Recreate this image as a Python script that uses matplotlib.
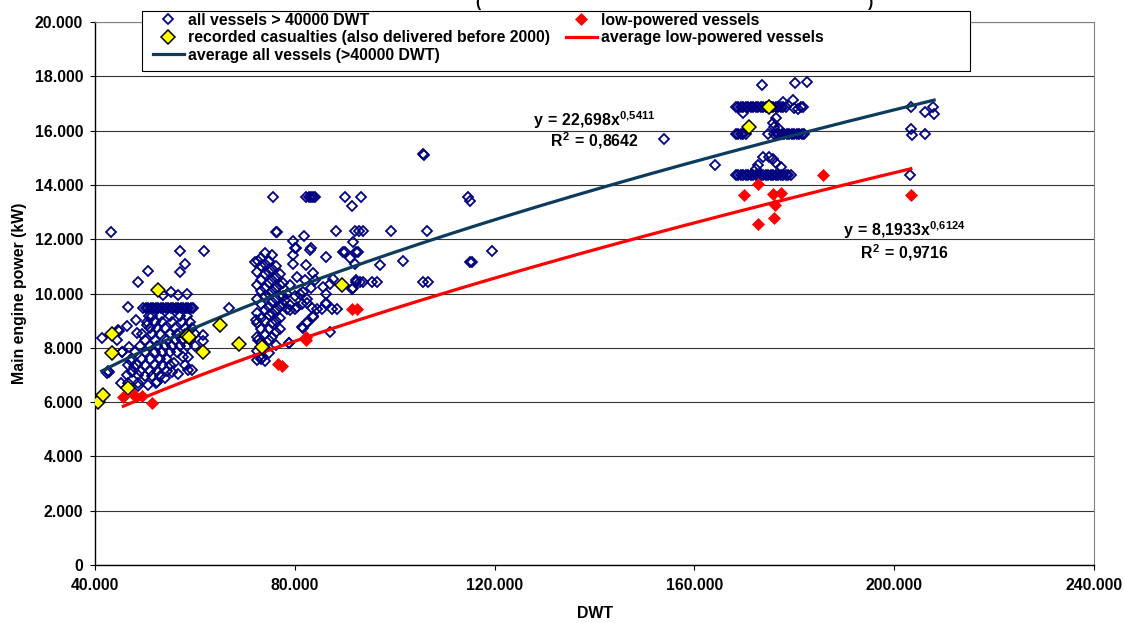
import matplotlib
matplotlib.use('Agg')
import matplotlib.pyplot as plt
from matplotlib.patches import Rectangle
import numpy as np

# values (DWT, main engine power in kW)
handymax_vessels = [
    (43200, 12280), (57000, 11570), (61800, 11570), (58000, 11075), (57000, 10780),
    (50670, 10830), (48670, 10435), (53670, 9945), (56670, 9960), (58340, 9970),
    (55300, 10050), (46530, 9515), (48200, 9020), (46330, 8800), (48330, 8560),
    (44670, 8655), (41330, 8350), (44800, 8620), (50340, 8840), (50800, 9180),
    (44340, 8290), (45470, 7830), (42670, 7145), (42330, 7060), (42870, 7120),
    (46670, 7370), (47340, 7120), (48670, 7000), (47000, 7550), (47800, 7300),
    (46500, 7000), (61700, 8470), (61700, 8260), (66870, 9450), (57670, 7670),
    (55870, 7430), (58000, 7370), (59340, 7180), (55340, 7120), (58700, 7180),
    (56700, 7035), (58700, 7670), (45200, 6715), (46600, 6690), (48670, 6690),
    (50670, 6630), (52340, 6750), (54000, 6875), (48700, 6600), (52300, 6690),
    (45330, 7860), (46800, 8040),
    # dense band at 9480 kW
    (49700, 9480), (50200, 9480), (50700, 9480), (51200, 9480), (51700, 9480),
    (52200, 9480), (52700, 9480), (53200, 9480), (53700, 9480), (54200, 9480),
    (54700, 9480), (55200, 9480), (55700, 9480), (56200, 9480), (56700, 9480),
    (57200, 9480), (57700, 9480), (58200, 9480), (58700, 9480), (59200, 9480),
    (59700, 9480),
    # dense cloud
    (51500, 9180), (53000, 9180), (55000, 9180), (57000, 9180), (58500, 9180),
    (50500, 8950), (52000, 8950), (53500, 8950), (55500, 8950), (57500, 8950), (59000, 8950),
    (51000, 8740), (52500, 8740), (54000, 8740), (56000, 8740), (58000, 8740), (59500, 8740),
    (49500, 8500), (51500, 8500), (53000, 8500), (55000, 8500), (56500, 8500), (58000, 8500),
    (60000, 8500),
    (50000, 8280), (52000, 8280), (54500, 8280), (56000, 8280), (57500, 8280), (59000, 8280),
    (49000, 8050), (51000, 8050), (52500, 8050), (54000, 8050), (55500, 8050), (57000, 8050),
    (58500, 8050), (60000, 8050),
    (48000, 7830), (50000, 7830), (52000, 7830), (53500, 7830), (55000, 7830), (56500, 7830),
    (47500, 7600), (49500, 7600), (51000, 7600), (53000, 7600), (54500, 7600),
    (48500, 7380), (50000, 7380), (52000, 7380), (53500, 7380), (55000, 7380),
    (49000, 7150), (51000, 7150), (52500, 7150), (54500, 7150),
    (50000, 6950), (51500, 6950), (53000, 6950),
]

panamax_vessels = [
    (75670, 13560), (82300, 13560), (82800, 13560), (83300, 13560), (83700, 13560),
    (84000, 13560), (76200, 12280), (76500, 12280), (81800, 12130), (79540, 11930),
    (72670, 11210), (72000, 11170), (80000, 11660), (80300, 11690), (83000, 11600),
    (83200, 11660), (82340, 11050), (83670, 10740), (82000, 10500), (79700, 11100),
    (79700, 11420), (79000, 9575), (78000, 9760), (81540, 8780), (82470, 8900),
    (83670, 9145), (78870, 8190), (81700, 10070), (82400, 8950), (81700, 8720),
    (83700, 9180), (79000, 9400), (80500, 9500), (81500, 9600), (82500, 9650),
    (83500, 9450), (80000, 9900), (81000, 10000), (82500, 9800), (83300, 10200),
    (84000, 10500), (79000, 10300), (78500, 10000), (80500, 10600), (72200, 9020),
    (72700, 8290), (73400, 7610), (74000, 7500), (78900, 8170),
    (78500, 9440), (80000, 9440), (84500, 9440), (85500, 9440), (87500, 9440), (88500, 9440),
    # dense cloud 72-78k DWT
    (72500, 10800), (72500, 10300), (72500, 9800), (72500, 9300), (72500, 8900),
    (72500, 8400), (72500, 7900), (72500, 7550),
    (73300, 11300), (73300, 11000), (73300, 10500), (73300, 10100), (73300, 9600),
    (73300, 9100), (73300, 8700), (73300, 8200), (73300, 7600),
    (74000, 11500), (74000, 11100), (74000, 10700), (74000, 10200), (74000, 9900),
    (74000, 9400), (74000, 9000), (74000, 8500), (74000, 8000),
    (74800, 11200), (74800, 10800), (74800, 10400), (74800, 10000), (74800, 9500),
    (74800, 9200), (74800, 8700), (74800, 8300), (74800, 7800),
    (75500, 11400), (75500, 10900), (75500, 10500), (75500, 10100), (75500, 9700),
    (75500, 9300), (75500, 8900), (75500, 8400),
    (76300, 11000), (76300, 10600), (76300, 10200), (76300, 9800), (76300, 9400),
    (76300, 9000), (76300, 8600), (76300, 8100),
    (77000, 10700), (77000, 10300), (77000, 9900), (77000, 9500), (77000, 9100), (77000, 8700),
    (77700, 10400), (77700, 9900), (77700, 9600),
    # 85-120k DWT
    (86200, 11330), (90000, 11540), (92600, 11540), (91600, 11910), (89700, 11540),
    (92300, 11540), (91000, 11300), (92000, 11090), (97000, 11050), (101700, 11210),
    (88200, 12300), (92000, 12300), (92800, 12300), (93600, 12300), (99200, 12300),
    (106500, 12300), (90000, 13560), (93300, 13560), (91500, 13220), (92300, 10410),
    (93000, 10410), (93700, 10410), (95400, 10410), (96400, 10410), (105700, 10410),
    (106700, 10410), (87700, 10520), (85700, 10250), (86200, 10000), (91500, 10150),
    (86200, 9660), (87000, 8590), (87000, 10360), (92300, 10500), (91700, 10190),
    (86340, 9610), (105700, 15150), (105900, 15100), (114700, 13560), (115000, 13420),
    (119500, 11570), (115000, 11150), (115500, 11150),
]

capesize_vessels = [
    (154000, 15690), (164200, 14730),
    (168300, 16880), (168800, 16880), (169300, 16880), (169800, 16880), (170300, 16880),
    (170800, 16880), (171300, 16880), (171800, 16880), (172300, 16880), (172800, 16880),
    (173300, 16880), (173800, 16880), (174300, 16880), (174800, 16880), (175300, 16880),
    (175800, 16880), (176300, 16880), (176800, 16880), (177300, 16880), (177800, 16880),
    (178300, 16880),
    (179700, 17120), (180000, 16820), (180700, 16780), (181300, 16880), (181700, 16880),
    (169700, 16630), (177700, 17060), (173500, 17670), (180200, 17740), (182500, 17800),
    (168300, 15880), (168800, 15880), (169300, 15880), (169800, 15880), (170300, 15880),
    (176000, 15880), (176500, 15880), (177000, 15880), (177500, 15880), (178000, 15880),
    (178500, 15880), (179000, 15880), (179500, 15880), (180000, 15880), (180500, 15880),
    (181000, 15880), (181500, 15880), (182000, 15880),
    (175700, 16290), (176300, 16450), (176000, 16140), (174700, 15890), (176900, 16070),
    (168300, 14360), (168800, 14360), (169300, 14360), (169800, 14360), (170300, 14360),
    (170800, 14360), (171300, 14360), (171800, 14360), (172300, 14360), (172800, 14360),
    (173300, 14360), (173800, 14360), (174300, 14360), (174800, 14360), (175300, 14360),
    (175800, 14360), (176300, 14360), (176800, 14360), (177300, 14360), (177800, 14360),
    (178300, 14360), (178800, 14360),
    (172700, 14730), (173700, 15010), (175000, 15040), (175700, 14970), (176300, 14790),
    (177300, 14670), (179300, 14350), (172300, 14600),
    (203300, 16880), (206100, 16700), (207700, 16880), (208000, 16600), (203300, 16050),
    (203500, 15840), (206100, 15870), (203100, 14350),
]

casualties = [
    (40670, 6015), (41670, 6260), (46670, 6530), (43330, 7820), (43470, 8495),
    (52540, 10130), (58400, 8450), (58870, 8400), (61680, 7832), (65010, 8840),
    (68870, 8140), (73340, 8040), (89540, 10310), (171000, 16120), (175000, 16880),
]

low_powered = [
    (45670, 6200), (47800, 6260), (49330, 6235), (51330, 5980), (76670, 7400),
    (77530, 7340), (82200, 8410), (82200, 8280), (91500, 9430), (92500, 9430),
    (170000, 13630), (172670, 14020), (175670, 13665), (177330, 13713), (176200, 13260),
    (176000, 12790), (172670, 12550), (185800, 14365), (203330, 13630),
]

# power-law trendlines as printed on the chart
fit_all = (22.698, 0.5411, 0.8642)
fit_low = (8.1933, 0.6124, 0.9716)

x_ticks = [40000, 80000, 120000, 160000, 200000, 240000]
y_ticks = [0, 2000, 4000, 6000, 8000, 10000, 12000, 14000, 16000, 18000, 20000]

FS = 11.4


def dotted(v):
    return f'{v:,.0f}'.replace(',', '.')


def main():
    plt.rcParams['font.family'] = ['Liberation Sans', 'DejaVu Sans']
    plt.rcParams['font.weight'] = 'bold'
    plt.rcParams['mathtext.fontset'] = 'custom'
    plt.rcParams['mathtext.rm'] = 'Liberation Sans:bold'
    plt.rcParams['mathtext.it'] = 'Liberation Sans:bold'
    plt.rcParams['mathtext.bf'] = 'Liberation Sans:bold'

    W, H = 1125, 623
    fig = plt.figure(figsize=(W / 100, H / 100), dpi=100)
    ax = fig.add_axes([95 / W, 58 / H, 999 / W, 543 / H])

    all_pts = handymax_vessels + panamax_vessels + capesize_vessels
    bx, by = zip(*all_pts)
    yx, yy = zip(*casualties)
    rx, ry = zip(*low_powered)

    blue, = ax.plot(bx, by, ls='none', marker='D', ms=4.9, mfc='none',
                    mec='#000080', mew=1.3, zorder=2,
                    label='all vessels > 40000 DWT')

    xs = np.linspace(min(bx), max(bx), 200)
    t_all, = ax.plot(xs, fit_all[0] * xs ** fit_all[1], color='#0d3b5e', lw=2.3,
                     zorder=3, label='average all vessels (>40000 DWT)')
    xs = np.linspace(min(rx), max(rx), 200)
    t_low, = ax.plot(xs, fit_low[0] * xs ** fit_low[1], color='#ff0000', lw=2.3,
                     zorder=3, label='average low-powered vessels')

    yel, = ax.plot(yx, yy, ls='none', marker='D', ms=7.0, mfc='#ffff00',
                   mec='black', mew=1.1, zorder=4,
                   label='recorded casualties (also delivered before 2000)')
    red, = ax.plot(rx, ry, ls='none', marker='D', ms=6.6, mfc='#ff0000',
                   mec='#ff0000', mew=0.5, zorder=4, label='low-powered vessels')

    ax.set_xlim(40000, 240000)
    ax.set_ylim(0, 20000)
    ax.set_xticks(x_ticks)
    ax.set_xticklabels([dotted(v) for v in x_ticks])
    ax.set_yticks(y_ticks)
    ax.set_yticklabels([dotted(v) for v in y_ticks])
    ax.tick_params(direction='out', length=3.6, width=0.8, labelsize=FS, pad=5)
    ax.tick_params(axis='x', pad=6)
    ax.yaxis.grid(True, color='#333333', lw=0.8)
    ax.set_axisbelow(True)
    for s in ['top', 'right']:
        ax.spines[s].set_color('#808080')
    for s in ['left', 'bottom']:
        ax.spines[s].set_color('black')
        ax.spines[s].set_linewidth(1.0)

    # trendline equations
    ax.text(140000, 16390, r'$y\,=\,22{,}698x^{0{,}5411}$', ha='center', va='center', fontsize=FS)
    ax.text(140000, 15616, r'$R^2\,=\,0{,}8642$', ha='center', va='center', fontsize=FS)
    ax.text(202100, 12340, r'$y\,=\,8{,}1933x^{0{,}6124}$', ha='center', va='center', fontsize=FS)
    ax.text(202100, 11490, r'$R^2\,=\,0{,}9716$', ha='center', va='center', fontsize=FS)

    fig.text(20 / W, 1 - 293 / H, 'Main engine power (kW)', rotation=90,
             ha='center', va='center', fontsize=FS)
    fig.text(595 / W, 1 - 613 / H, 'DWT', ha='center', va='center', fontsize=FS)

    # bottom of the chart title, cut off by the top edge in the reference
    fig.text(475 / W, 1 - 7 / H, '(', ha='left', va='baseline', fontsize=FS)
    fig.text(868 / W, 1 - 7 / H, ')', ha='left', va='baseline', fontsize=FS)

    box = Rectangle((142 / W, 1 - 71 / H), 828 / W, 60.3 / H, transform=fig.transFigure,
                    facecolor='white', edgecolor='black', lw=0.8, zorder=5)
    fig.add_artist(box)

    opts = dict(loc='upper left', frameon=False, borderpad=0, borderaxespad=0,
                handlelength=1.95, handletextpad=0.25, labelspacing=0.15,
                fontsize=FS, numpoints=1)
    leg1 = fig.legend([blue, yel, t_all], [blue.get_label(), yel.get_label(), t_all.get_label()],
                      bbox_to_anchor=(153 / W, 1 - 13 / H), **opts)
    leg2 = fig.legend([red, t_low], [red.get_label(), t_low.get_label()],
                      bbox_to_anchor=(566 / W, 1 - 13 / H), **opts)
    leg1.set_zorder(6)
    leg2.set_zorder(6)

    fig.savefig('out.png', dpi=100)


if __name__ == '__main__':
    main()
